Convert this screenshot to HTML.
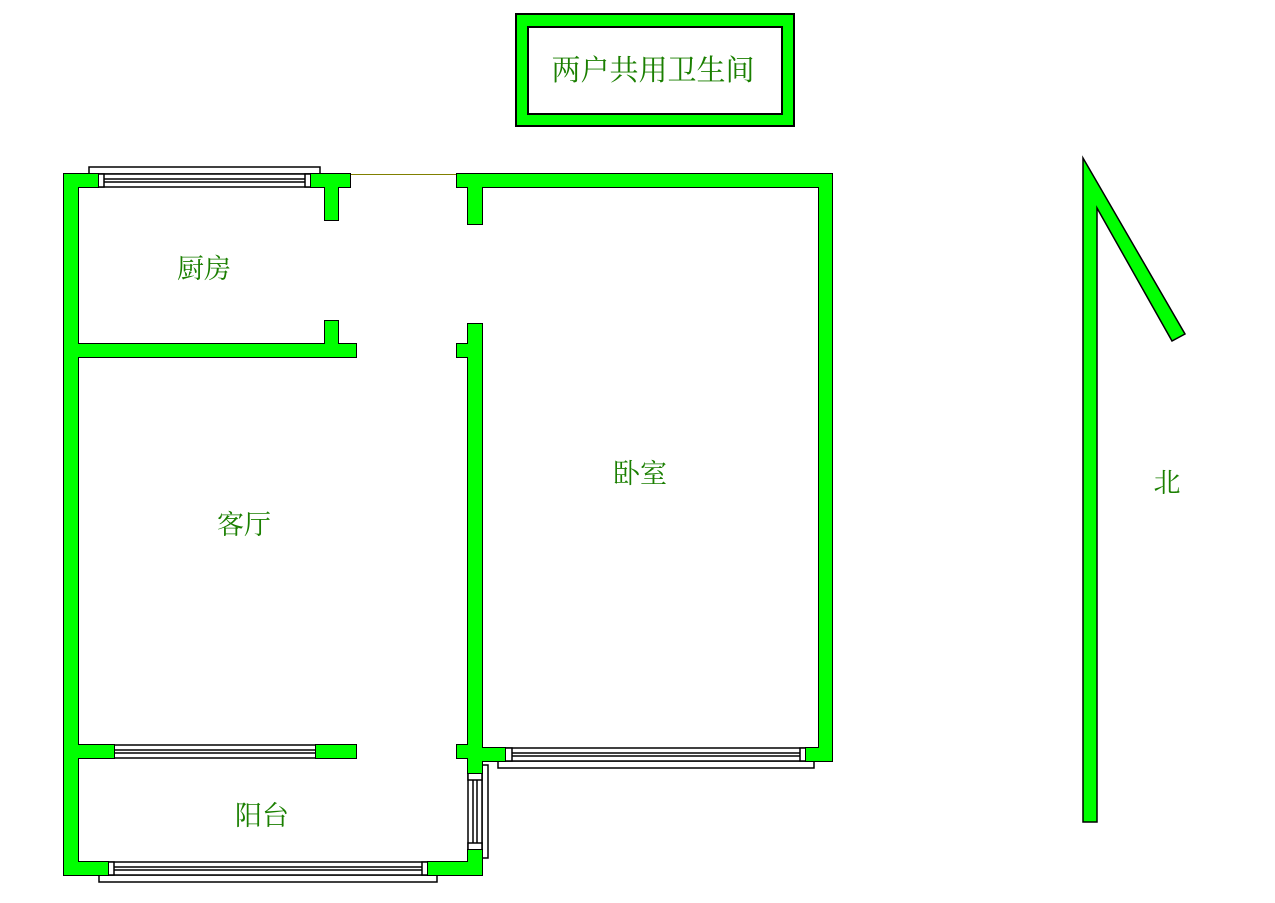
<!DOCTYPE html>
<html><head><meta charset="utf-8"><style>html,body{margin:0;padding:0;background:#fff}svg{display:block}text{font-family:"Liberation Serif","Noto Serif CJK SC",serif;fill:#1a7f00;font-size:27px}</style></head>
<body>
<svg width="1275" height="903" viewBox="0 0 1275 903">
<rect x="516" y="14" width="278" height="112" fill="#00ff00" stroke="#000" stroke-width="2"/>
<rect x="528" y="27" width="254" height="87" fill="#fff" stroke="#000" stroke-width="2"/>
<text x="653" y="80" text-anchor="middle" style="font-size:29px">两户共用卫生间</text>
<g fill="#fff" stroke="#000" stroke-width="1.5">
<rect x="89" y="167" width="231" height="7"/>
<rect x="98" y="174" width="213" height="13"/><line x1="104" y1="179" x2="305" y2="179"/><line x1="104" y1="182" x2="305" y2="182"/>
<rect x="98" y="174" width="6" height="13"/><rect x="305" y="174" width="6" height="13"/>
<rect x="114" y="745" width="202" height="13"/><line x1="114" y1="750" x2="316" y2="750"/><line x1="114" y1="753" x2="316" y2="753"/>
<rect x="498" y="761" width="316" height="7"/>
<rect x="505" y="748" width="301" height="13"/><line x1="512" y1="753" x2="800" y2="753"/><line x1="512" y1="756" x2="800" y2="756"/>
<rect x="505" y="748" width="7" height="13"/><rect x="800" y="748" width="6" height="13"/>
<rect x="99" y="875" width="338" height="7"/>
<rect x="108" y="862" width="320" height="13"/><line x1="114" y1="867" x2="422" y2="867"/><line x1="114" y1="870" x2="422" y2="870"/>
<rect x="108" y="862" width="6" height="13"/><rect x="422" y="862" width="6" height="13"/>
<rect x="482" y="765" width="6" height="93"/>
<rect x="468" y="773" width="14" height="77"/><line x1="473" y1="780" x2="473" y2="843"/><line x1="477" y1="780" x2="477" y2="843"/>
<rect x="468" y="773" width="14" height="7"/><rect x="468" y="843" width="14" height="7"/>
</g>
<line x1="350" y1="174.5" x2="457" y2="174.5" stroke="#808000" stroke-width="1"/>
<g id="w">
<rect x="64" y="174" width="14" height="701"/>
<rect x="64" y="174" width="34" height="13"/>
<rect x="311" y="174" width="39" height="13"/><rect x="325" y="174" width="13" height="46"/>
<rect x="457" y="174" width="375" height="13"/><rect x="468" y="174" width="14" height="50"/>
<rect x="819" y="174" width="13" height="587"/>
<rect x="64" y="344" width="292" height="13"/><rect x="325" y="321" width="13" height="36"/>
<rect x="468" y="324" width="14" height="449"/>
<rect x="457" y="344" width="11" height="13"/><rect x="457" y="745" width="11" height="13"/>
<rect x="468" y="748" width="37" height="13"/><rect x="806" y="748" width="26" height="13"/>
<rect x="64" y="745" width="50" height="13"/><rect x="316" y="745" width="40" height="13"/>
<rect x="64" y="862" width="44" height="13"/><rect x="428" y="862" width="54" height="13"/><rect x="468" y="850" width="14" height="25"/>
</g>
<use href="#w" fill="none" stroke="#000" stroke-width="2"/>
<use href="#w" fill="#00ff00"/>
<polygon points="1083,158 1083,822 1097,822 1097,208 1172,341 1185,334" fill="#00ff00" stroke="#000" stroke-width="1.5"/>
<text x="204" y="278" text-anchor="middle">厨房</text>
<text x="244" y="534" text-anchor="middle">客厅</text>
<text x="640" y="483" text-anchor="middle">卧室</text>
<text x="262" y="825" text-anchor="middle">阳台</text>
<text x="1167" y="492" text-anchor="middle">北</text>
</svg>
</body></html>
